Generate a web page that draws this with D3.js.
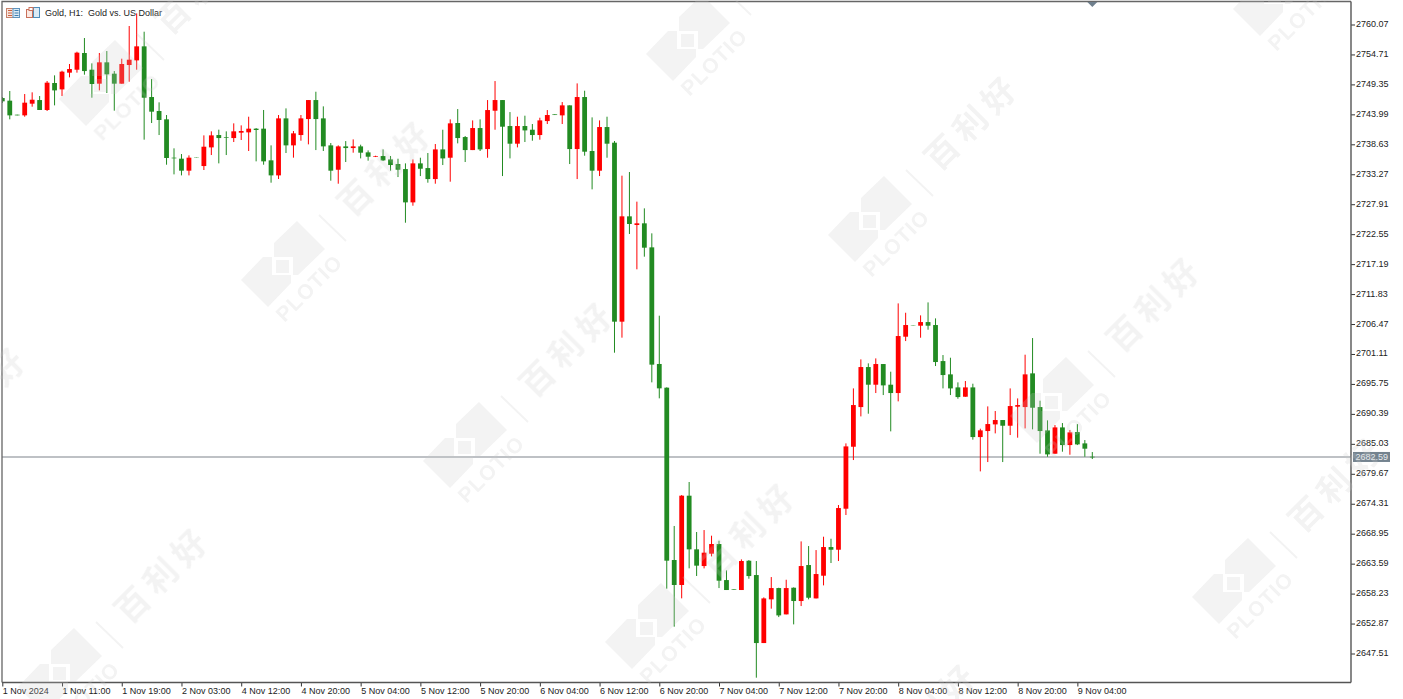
<!DOCTYPE html>
<html>
<head>
<meta charset="utf-8">
<title>Gold, H1</title>
<script src="https://cdn.jsdelivr.net/npm/d3@7"></script>
<style>
    html, body { margin: 0; padding: 0; background: #fff; overflow: hidden; }
    svg { display: block; }
    text { font-family: "Liberation Sans", sans-serif; font-size: 9px; fill: #222; }
    .wm text { fill: #c8c8c8; }
</style>
</head>
<body>
<svg></svg>
<script>
// Values, one entry per hourly bar
const opens = [
    2746.91,2746.44,2743.93,2743.81,2745.90,2746.55,2744.77,2749.60,2748.46,2751.45,
    2751.98,2754.97,2751.98,2749.48,2753.30,2751.27,2749.48,2752.82,2753.65,2756.16,
    2747.09,2744.59,2743.10,2736.24,2736.06,2733.91,2736.24,2734.74,2738.08,2740.29,
    2739.93,2739.75,2740.71,2740.77,2741.43,2741.43,2735.76,2733.07,2743.27,2738.44,
    2740.29,2743.15,2746.55,2743.27,2738.44,2734.08,2738.26,2737.96,2738.26,2737.19,
    2736.41,2736.53,2735.93,2735.10,2734.20,2728.24,2735.22,2734.38,2732.41,2737.72,
    2736.23,2742.44,2739.93,2737.60,2741.54,2737.78,2744.64,2746.55,2741.90,2738.74,
    2741.90,2741.24,2740.29,2742.79,2743.99,2743.81,2745.60,2737.78,2747.09,2737.43,
    2733.91,2741.72,2738.92,2706.89,2725.74,2724.19,2724.49,2720.19,2699.32,2695.08,
    2664.24,2659.77,2675.75,2666.15,2663.16,2665.37,2667.10,2660.65,2659.04,2658.87,
    2664.11,2661.55,2649.38,2657.20,2659.22,2654.51,2659.28,2656.90,2663.34,2657.37,
    2661.43,2666.56,2666.08,2673.42,2684.51,2691.61,2698.77,2695.61,2699.31,2695.61,
    2694.12,2704.20,2706.29,2706.17,2706.82,2706.29,2699.84,2697.46,2695.13,2693.46,
    2695.13,2686.24,2687.32,2688.51,2689.29,2688.27,2691.67,2691.61,2697.64,2691.61,
    2687.44,2683.26,2687.97,2684.81,2687.14,2685.11,2682.72
];
const highs = [
    2747.09,2748.17,2743.93,2747.63,2747.93,2747.27,2749.96,2750.97,2751.80,2753.00,
    2755.20,2757.65,2753.12,2754.97,2755.32,2751.74,2753.95,2759.80,2762.06,2758.78,
    2750.31,2746.14,2743.87,2737.91,2736.89,2736.65,2736.24,2740.23,2740.95,2741.25,
    2740.95,2742.38,2742.02,2743.57,2741.54,2744.77,2738.44,2743.87,2745.06,2741.01,
    2743.87,2746.55,2748.04,2745.42,2738.86,2738.44,2739.21,2739.51,2738.56,2737.54,
    2736.59,2737.72,2736.53,2736.05,2735.22,2735.93,2736.23,2737.07,2738.68,2741.24,
    2743.09,2744.94,2740.11,2742.91,2743.09,2746.55,2749.95,2746.55,2744.40,2743.57,
    2743.75,2742.26,2743.39,2744.76,2743.99,2746.19,2745.60,2749.53,2748.22,2743.45,
    2742.91,2743.57,2739.22,2733.02,2733.67,2728.37,2727.17,2722.70,2707.96,2695.14,
    2670.33,2675.87,2678.20,2669.25,2669.60,2668.59,2667.69,2662.38,2659.04,2664.35,
    2664.23,2664.06,2657.55,2661.19,2659.28,2660.71,2659.34,2667.57,2666.74,2666.02,
    2668.41,2668.05,2674.08,2685.11,2694.95,2700.14,2699.43,2700.32,2699.31,2697.94,
    2710.16,2708.49,2706.29,2708.02,2710.34,2707.48,2700.92,2700.44,2696.03,2696.27,
    2695.79,2687.74,2691.73,2690.90,2689.29,2694.95,2693.16,2700.98,2703.96,2692.75,
    2689.23,2688.39,2688.75,2687.50,2688.57,2685.71,2683.56
];
const lows = [
    2746.02,2743.10,2743.81,2743.57,2745.36,2744.77,2744.59,2745.60,2747.27,2750.61,
    2751.45,2751.09,2746.97,2748.28,2747.81,2744.65,2749.48,2749.84,2751.98,2739.46,
    2742.44,2740.29,2734.98,2733.25,2733.07,2733.07,2736.18,2734.03,2736.71,2735.22,
    2736.71,2739.04,2739.40,2737.43,2735.58,2734.98,2731.76,2732.42,2737.07,2736.24,
    2739.27,2738.62,2737.60,2737.43,2732.12,2731.58,2735.46,2737.13,2736.11,2735.70,
    2736.35,2735.64,2733.91,2732.77,2724.60,2727.64,2732.95,2731.76,2731.58,2734.92,
    2731.94,2738.80,2735.46,2737.60,2737.43,2736.23,2741.24,2732.95,2736.11,2738.08,
    2739.04,2739.27,2739.45,2742.26,2743.87,2742.26,2735.10,2732.41,2736.59,2730.57,
    2732.95,2736.23,2701.34,2704.03,2722.58,2716.26,2718.52,2696.03,2693.17,2659.11,
    2652.31,2657.38,2662.75,2661.38,2662.74,2664.89,2659.22,2658.87,2658.93,2658.87,
    2660.89,2643.18,2649.38,2655.53,2654.03,2654.51,2652.72,2656.00,2657.20,2657.37,
    2659.70,2663.70,2664.06,2672.29,2682.13,2689.94,2690.42,2694.12,2693.76,2687.26,
    2692.63,2703.42,2706.23,2704.02,2705.45,2698.95,2694.95,2693.76,2693.10,2693.46,
    2685.77,2680.10,2681.77,2686.90,2681.77,2686.60,2686.13,2687.79,2687.62,2683.26,
    2682.72,2683.26,2683.62,2683.08,2684.81,2682.72,2682.31
];
const closes = [
    2746.32,2743.81,2743.81,2746.08,2746.61,2744.77,2749.66,2748.28,2751.63,2752.10,
    2755.03,2751.74,2749.42,2753.30,2751.15,2749.48,2753.00,2753.77,2756.16,2746.97,
    2744.47,2742.98,2736.18,2736.12,2733.91,2736.24,2736.18,2738.20,2740.23,2739.75,
    2739.81,2740.95,2741.01,2741.43,2741.19,2735.58,2733.07,2743.27,2738.44,2740.59,
    2743.27,2746.55,2743.15,2738.26,2733.91,2738.26,2737.96,2738.26,2737.13,2736.41,
    2736.53,2735.75,2734.92,2734.08,2728.24,2735.22,2734.26,2732.41,2737.72,2736.11,
    2742.38,2739.75,2737.60,2741.54,2737.72,2744.76,2746.55,2741.78,2738.74,2741.90,
    2741.12,2740.29,2742.91,2743.87,2743.87,2745.60,2737.78,2747.09,2737.31,2733.91,
    2741.72,2738.74,2706.89,2725.74,2724.37,2724.49,2720.13,2699.20,2694.96,2664.12,
    2659.77,2675.75,2666.15,2663.23,2665.55,2667.10,2660.54,2658.87,2658.93,2664.06,
    2661.37,2649.38,2657.37,2659.22,2654.33,2659.22,2656.90,2663.16,2657.49,2661.73,
    2666.56,2666.08,2673.54,2684.57,2691.97,2698.77,2695.61,2699.31,2695.49,2694.12,
    2704.32,2706.29,2706.23,2706.82,2706.17,2699.67,2697.34,2694.95,2693.40,2695.13,
    2686.24,2687.44,2688.57,2689.29,2688.27,2691.79,2691.97,2697.46,2691.49,2687.32,
    2683.14,2687.97,2684.81,2687.08,2684.93,2684.16,2682.61
];

const priceTicks = [
    2760.07,2754.71,2749.35,2743.99,2738.63,2733.27,2727.91,2722.55,2717.19,2711.83,2706.47,
    2701.11,2695.75,2690.39,2685.03,2679.67,2674.31,2668.95,2663.59,2658.23,2652.87,2647.51
];
const timeLabels = [
    '1 Nov 2024','1 Nov 11:00','1 Nov 19:00','2 Nov 03:00','4 Nov 12:00','4 Nov 20:00','5 Nov 04:00',
    '5 Nov 12:00','5 Nov 20:00','6 Nov 04:00','6 Nov 12:00','6 Nov 20:00','7 Nov 04:00','7 Nov 12:00',
    '7 Nov 20:00','8 Nov 04:00','8 Nov 12:00','8 Nov 20:00','9 Nov 04:00'
];
const lastPrice = 2682.59;

const width = 1403;
const height = 699;
const plotLeft = 2, plotRight = 1351, plotTop = 1.5, plotBottom = 682.5;

const svg = d3.select("svg")
    .attr("width", width)
    .attr("height", height);

const x = d3.scaleLinear().domain([0, 146]).range([2.3, 1092.3]);
const y = d3.scaleLinear().domain([2760.07, 2647.51]).range([24.5, 653.5]);

const bars = d3.range(opens.length);
const up = i => closes[i] >= opens[i];
const barColor = i => up(i) ? "#ff0000" : "#228b22";

// last price line sits under the candles
svg.append("line")
    .attr("x1", plotLeft).attr("x2", plotRight)
    .attr("y1", y(lastPrice) - 0.5).attr("y2", y(lastPrice) - 0.5)
    .attr("stroke", "#a9adb2")
    .attr("stroke-width", 1.4);

svg.append("defs").append("clipPath").attr("id", "plot")
    .append("rect")
    .attr("x", plotLeft).attr("y", plotTop)
    .attr("width", plotRight - plotLeft).attr("height", plotBottom - plotTop);

const candles = svg.append("g").attr("clip-path", "url(#plot)");

candles.selectAll("line")
    .data(bars)
    .enter().append("line")
    .attr("x1", i => x(i)).attr("x2", i => x(i))
    .attr("y1", i => y(highs[i])).attr("y2", i => y(lows[i]))
    .attr("stroke", barColor)
    .attr("stroke-width", 1);

candles.selectAll("rect")
    .data(bars)
    .enter().append("rect")
    .attr("x", i => x(i) - 2.4)
    .attr("width", 4.8)
    .attr("y", i => y(Math.max(opens[i], closes[i])))
    .attr("height", i => Math.abs(y(opens[i]) - y(closes[i])))
    .attr("fill", barColor);

// frame
svg.append("path")
    .attr("d", `M${plotLeft},${plotBottom}V${plotTop}H${plotRight}`)
    .attr("fill", "none")
    .attr("stroke", "#666")
    .attr("stroke-width", 1.3);

// price axis
const yAxis = svg.append("g")
    .attr("transform", `translate(${plotRight},0)`)
    .call(d3.axisRight(y).tickValues(priceTicks).tickSize(4).tickPadding(1).tickFormat(d3.format(".2f")));
yAxis.select(".domain").remove();
yAxis.append("line")
    .attr("y1", plotTop).attr("y2", plotBottom)
    .attr("stroke", "#555").attr("stroke-width", 1.4);
yAxis.selectAll(".tick line").attr("stroke", "#333");
yAxis.selectAll(".tick text").attr("dy", "0.22em");

// time axis, a tick every 8 bars
const xAxis = svg.append("g")
    .attr("transform", `translate(0,${plotBottom})`)
    .call(d3.axisBottom(x)
        .tickValues(d3.range(0, opens.length, 8))
        .tickSize(4)
        .tickFormat((d, i) => timeLabels[i]));
xAxis.select(".domain").remove();
xAxis.append("line")
    .attr("x1", plotLeft).attr("x2", plotRight)
    .attr("stroke", "#555").attr("stroke-width", 1.4);
xAxis.selectAll(".tick line").attr("stroke", "#333");
xAxis.selectAll(".tick text")
    .attr("text-anchor", "start")
    .attr("x", 0)
    .attr("y", 5.5);

// last price tag
svg.append("rect")
    .attr("x", 1353).attr("y", y(lastPrice) - 5.5)
    .attr("width", 37).attr("height", 10)
    .attr("fill", "#74838f");
svg.append("text")
    .attr("x", 1355.5).attr("y", y(lastPrice) - 0.5)
    .attr("dy", "0.34em")
    .style("fill", "#e8ecef")
    .text(d3.format(".2f")(lastPrice));

// small marker on the top edge
svg.append("path")
    .attr("d", `M${x(146) - 5},2L${x(146) + 5},2L${x(146)},7Z`)
    .attr("fill", "#6f7f8d");

// title with the two toolbar icons
const icon1 = svg.append("g").attr("transform", "translate(6,8)");
icon1.append("rect").attr("x", 0.5).attr("y", 0.5).attr("width", 13).attr("height", 9)
    .attr("fill", "#f7e6df").attr("stroke", "#c9826b");
icon1.append("rect").attr("x", 7).attr("y", 0.5).attr("width", 6.5).attr("height", 9)
    .attr("fill", "#dcebf5").attr("stroke", "#5d93bd");
[2.5, 5, 7.5].forEach(d => {
    icon1.append("line").attr("x1", 2).attr("x2", 6).attr("y1", d).attr("y2", d).attr("stroke", "#c9603f");
    icon1.append("line").attr("x1", 8.5).attr("x2", 12.5).attr("y1", d).attr("y2", d).attr("stroke", "#3f7fb0");
});

const icon2 = svg.append("g").attr("transform", "translate(26,7)");
icon2.append("rect").attr("x", 0.5).attr("y", 2.5).attr("width", 6).attr("height", 8)
    .attr("fill", "#fbe9e3").attr("stroke", "#c9705a");
icon2.append("rect").attr("x", 7.5).attr("y", 0.5).attr("width", 6).attr("height", 10)
    .attr("fill", "#dcebf5").attr("stroke", "#4d8dbb");
icon2.append("rect").attr("x", 3).attr("y", 0.5).attr("width", 4).attr("height", 3)
    .attr("fill", "#fff").attr("stroke", "#c9705a");

svg.append("text")
    .attr("x", 45).attr("y", 16)
    .text("Gold, H1:\u00a0 Gold vs. US Dollar");

// watermark tiles go over everything, the logo repeats on a skewed grid
const tiles = [];
for (let a = -3; a <= 4; a++) {
    for (let b = -2; b <= 2; b++) {
        tiles.push([284 + a * 182 + b * 587, 265 + a * 181 - b * 45]);
    }
}

const wm = svg.append("g")
    .attr("class", "wm")
    .attr("opacity", 0.23)
    .style("pointer-events", "none");

const tile = wm.selectAll("g")
    .data(tiles.filter(d => d[0] > -200 && d[0] < 1500 && d[1] > -200 && d[1] < 850))
    .enter().append("g")
    .attr("transform", d => `translate(${d[0]},${d[1]})`);

tile.append("path").attr("d", "M-10,-22L13,-44L41,-16L14,10L9,10L9,-8L-10,-8Z").attr("fill", "#c8c8c8");
tile.append("path").attr("d", "M-21,-8L-12,-8L-12,10L7,10L7,18L-16,42L-43,15Z").attr("fill", "#c8c8c8");
tile.append("rect").attr("x", -8).attr("y", -5).attr("width", 13).attr("height", 13).attr("fill", "#c8c8c8");
tile.append("line")
    .attr("x1", 35).attr("y1", -50).attr("x2", 62).attr("y2", -24)
    .attr("stroke", "#c8c8c8").attr("stroke-width", 1.8);
tile.append("text")
    .attr("transform", "translate(25,23) rotate(-45)")
    .attr("text-anchor", "middle")
    .attr("dy", "0.35em")
    .attr("letter-spacing", 1)
    .style("font-size", "21px")
    .style("font-weight", "bold")
    .text("PLOTIO");
tile.append("text")
    .attr("transform", "translate(102,-98) rotate(-45)")
    .attr("text-anchor", "middle")
    .attr("dy", "0.35em")
    .attr("letter-spacing", 7)
    .style("font-family", '"Noto Sans CJK SC"')
    .style("font-size", "33px")
    .style("font-weight", "bold")
    .text("百利好");
</script>
</body>
</html>
